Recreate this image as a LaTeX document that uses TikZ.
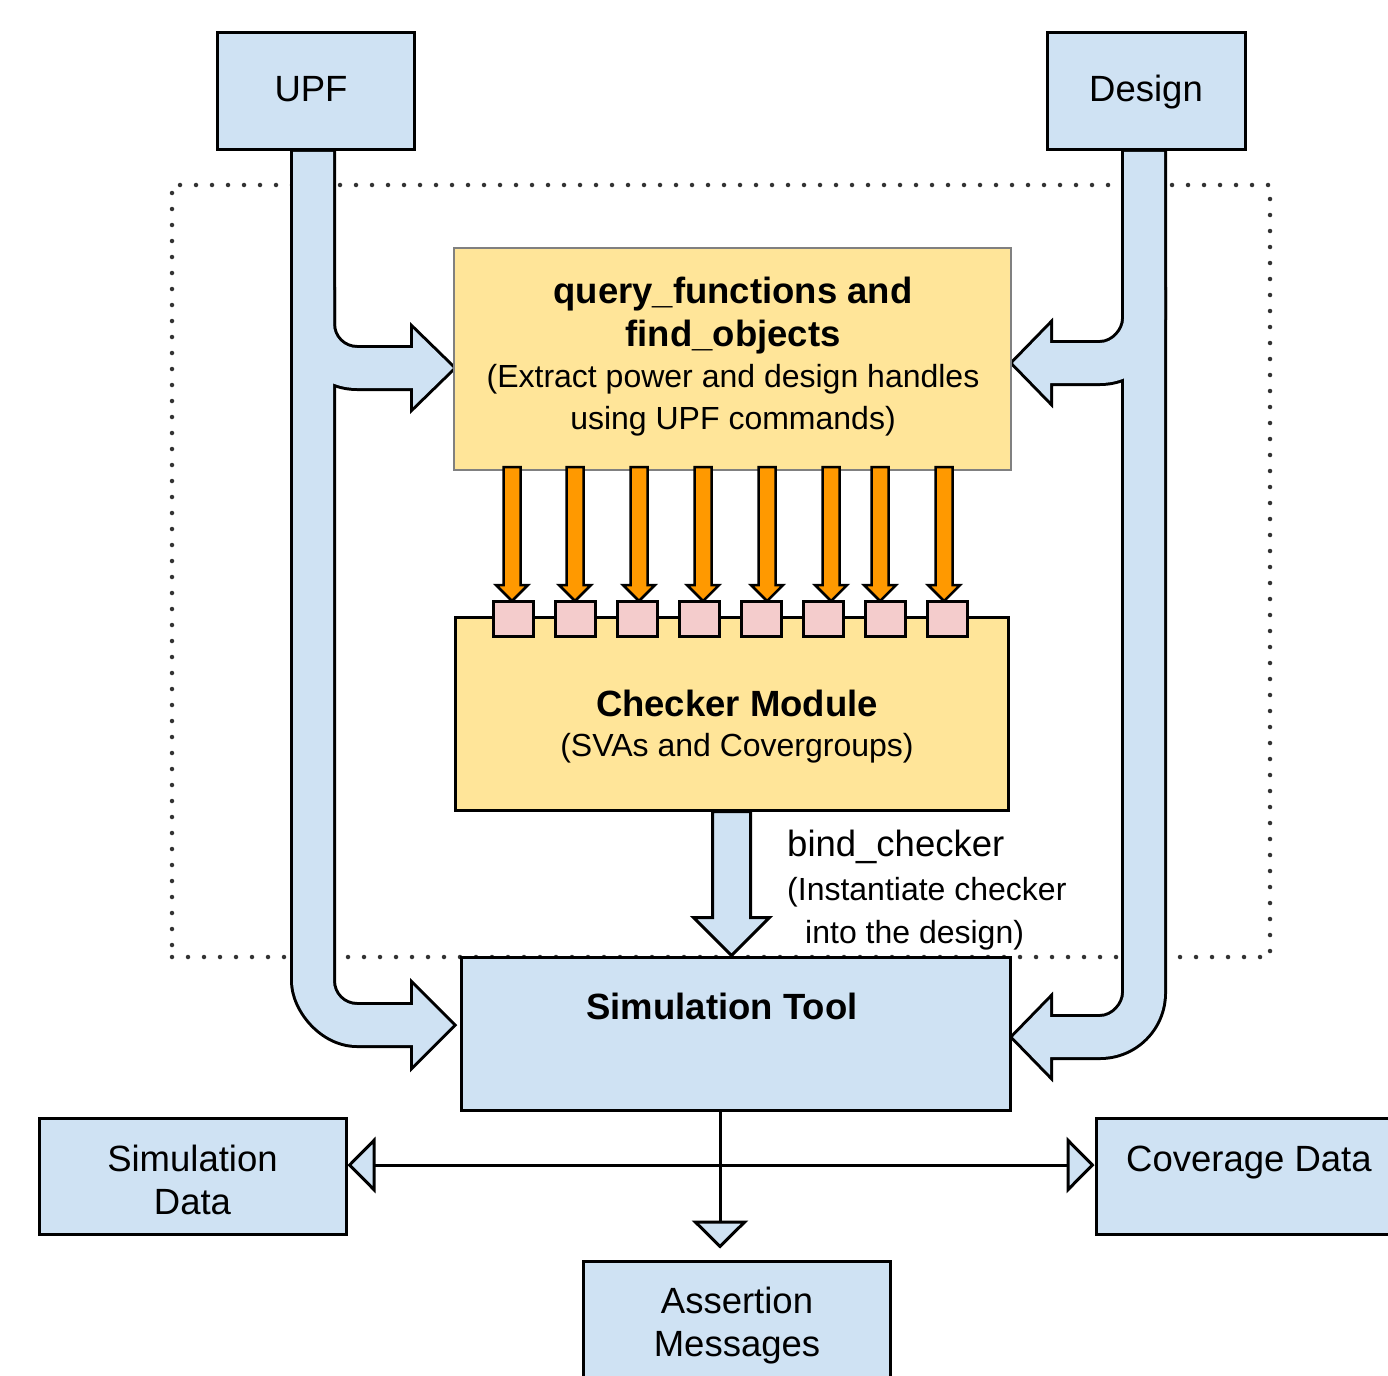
\documentclass[tikz,border=0pt]{standalone}
\usepackage{fontspec}
\setmainfont{Liberation Sans}
\usetikzlibrary{arrows.meta,calc}
\definecolor{boxblue}{HTML}{CFE2F3}
\definecolor{boxyellow}{HTML}{FFE599}
\definecolor{portpink}{HTML}{F4CCCC}
\definecolor{wireorange}{HTML}{FF9900}
\newcommand\headfont{\fontsize{36.5}{44}\selectfont}
\newcommand\notefont{\fontsize{32}{40}\selectfont}
\tikzset{
  bluebox/.style={rectangle, draw=black, line width=3pt, fill=boxblue, inner sep=0pt},
  yellowbox/.style={rectangle, fill=boxyellow, inner sep=0pt},
  port/.style={rectangle, draw=black, line width=3pt, fill=portpink, inner sep=0pt,
    outer sep=0pt, minimum width=40pt, minimum height=35pt},
  txt/.style={inner sep=0pt, anchor=base, font=\headfont},
  note/.style={inner sep=0pt, anchor=base, font=\notefont},
  fatline/.style={draw=black, line width=6pt},
  fatfill/.style={fill=boxblue},
  feed/.style={draw=black, line width=2.5pt, fill=wireorange},
  bluearrow/.style={draw=black, line width=3pt, fill=boxblue},
  wire/.style={draw=black, line width=3pt},
  opentip/.tip={Triangle[length=28pt, width=56pt, fill=boxblue]},
  dotframe/.style={rectangle, draw=black!80, line width=4.5pt, line cap=round,
    dash pattern=on 0pt off 16pt, inner sep=0pt}
}
\begin{document}
\begin{tikzpicture}[x=1pt, y=-1pt]
\path[use as bounding box] (0,0) rectangle (1388,1375);
\clip (0,0) rectangle (1388,1375);

% dotted frame around the flow
\node[dotframe, minimum width=1098pt, minimum height=772pt] (flow) at (721,571) {};

% wide bent arrows from UPF and Design
\path[save path=\upfmain] (293,152) -- (333,152) -- (333,981)
  .. controls (333,994.25) and (343.75,1005) .. (357,1005) -- (413,1005) -- (413,985)
  -- (453,1025) -- (413,1065) -- (413,1045) -- (357,1045)
  .. controls (321.65,1045) and (293,1009.65) .. (293,981) -- cycle;
\path[save path=\upfbranch] (293,290) -- (333,290) -- (333,324)
  .. controls (333,337.25) and (343.75,348) .. (357,348) -- (413,348) -- (413,329)
  -- (453,368) -- (413,407) -- (413,388) -- (357,388)
  .. controls (321.65,388) and (293,359.65) .. (293,324) -- cycle;
\path[save path=\dsnmain] (1124,152) -- (1164,152) -- (1164,993)
  .. controls (1164,1028.35) and (1135.35,1057) .. (1100,1057) -- (1050,1057) -- (1050,1075)
  -- (1013,1037) -- (1050,999) -- (1050,1017) -- (1100,1017)
  .. controls (1113.25,1017) and (1124,1003.75) .. (1124,993) -- cycle;
\path[save path=\dsnbranch] (1124,290) -- (1164,290) -- (1164,319)
  .. controls (1164,354.35) and (1135.35,383) .. (1100,383) -- (1050,383) -- (1050,401)
  -- (1013,363) -- (1050,325) -- (1050,343) -- (1100,343)
  .. controls (1113.25,343) and (1124,329.75) .. (1124,319) -- cycle;
% outlines first, then fills, so that overlapping arrows merge
\path[use path=\upfmain, fatline];
\path[use path=\upfbranch, fatline];
\path[use path=\dsnmain, fatline];
\path[use path=\dsnbranch, fatline];
\path[use path=\upfmain, fatfill];
\path[use path=\upfbranch, fatfill];
\path[use path=\dsnmain, fatfill];
\path[use path=\dsnbranch, fatfill];

% boxes
\node[bluebox, minimum width=197pt, minimum height=117pt] (upf) at (315.5,91.5) {};
\node[bluebox, minimum width=198pt, minimum height=117pt] (design) at (1146,91.5) {};
\node[yellowbox, draw=black!50, line width=2pt, minimum width=557pt, minimum height=222pt] (query) at (732.5,359) {};
\node[yellowbox, draw=black, line width=3pt, minimum width=553pt, minimum height=193pt] (checker) at (731.5,713.5) {};
\node[bluebox, minimum width=549pt, minimum height=153pt] (simtool) at (735.5,1033.5) {};
\node[bluebox, minimum width=307pt, minimum height=116pt] (simdata) at (192.5,1176) {};
\node[bluebox, minimum width=324pt, minimum height=116pt] (cov) at (1258,1176) {};
\node[bluebox, minimum width=307pt, minimum height=139pt] (assert) at (736.5,1330.5) {};

% checker ports
\foreach \i in {1,...,8}
  \node[port] (port\i) at ({513+62*(\i-1)},618.5) {};

% handle arrows into the ports
\foreach \ax/\i in {512/1,575/2,639/3,703/4,767/5,831/6,880/7,944/8} {
  \coordinate (src\i) at (\ax,467);
  \coordinate (tip\i) at (src\i |- port\i.north);
  \draw[feed] ([xshift=-8.5pt]src\i) -- ([xshift=8.5pt]src\i)
    -- ([xshift=8.5pt,yshift=16pt]tip\i) -- ([xshift=16pt,yshift=16pt]tip\i)
    -- (tip\i) -- ([xshift=-16pt,yshift=16pt]tip\i)
    -- ([xshift=-8.5pt,yshift=16pt]tip\i) -- cycle;
}

% bind_checker arrow
\coordinate (bs) at (checker.south);
\coordinate (bt) at (simtool.north -| bs);
\draw[bluearrow] ([xshift=-19pt]bs) -- ([xshift=19pt]bs)
  -- ([xshift=19pt,yshift=38pt]bt) -- ([xshift=38pt,yshift=38pt]bt)
  -- (bt) -- ([xshift=-38pt,yshift=38pt]bt) -- ([xshift=-19pt,yshift=38pt]bt) -- cycle;

% simulation outputs
\coordinate (hub) at (720,1165);
\draw[wire] (simtool.south -| hub) -- (hub);
\draw[wire, -{opentip}] (hub) -- (hub -| simdata.east);
\draw[wire, -{opentip}] (hub) -- (hub -| cov.west);
\draw[wire, -{opentip}, shorten >=11pt] (hub) -- (hub |- assert.north);

% labels
\node[txt] (upf-l) at (311,102) {UPF};
\node[txt] (design-l) at (1146,102) {Design};
\node[txt, font=\headfont\bfseries] (q1) at (733,303) {query\_functions and};
\node[txt, font=\headfont\bfseries] (q2) at (733,346) {find\_objects};
\node[note] (q3) at (733,387) {(Extract power and design handles};
\node[note] (q4) at (733,429) {using UPF commands)};
\node[txt, font=\headfont\bfseries] (c1) at (737,716) {Checker Module};
\node[note] (c2) at (737,756) {(SVAs and Covergroups)};
\node[txt, font=\headfont\bfseries] (s1) at (722,1019) {Simulation Tool};
\node[txt, anchor=base west] (b1) at (787,856) {bind\_checker};
\node[note, anchor=base west] (b2) at (787,900) {(Instantiate checker};
\node[note, anchor=base west] (b3) at (805,943) {into the design)};
\node[txt] (sd1) at (192.5,1171) {Simulation};
\node[txt] (sd2) at (192.5,1214) {Data};
\node[txt, anchor=base west] (cv1) at (1126,1171) {Coverage Data};
\node[txt] (a1) at (737,1313) {Assertion};
\node[txt] (a2) at (737,1356) {Messages};
\end{tikzpicture}
\end{document}
